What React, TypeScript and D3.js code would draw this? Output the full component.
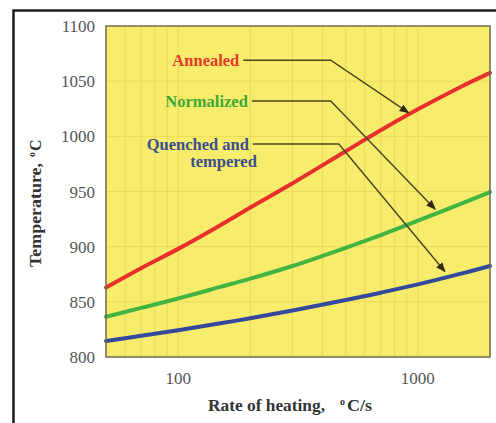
import * as d3 from 'd3'

// heating rate, °C/s
const rates = [50, 70, 100, 150, 200, 300, 500, 700, 1000, 1500, 2000]
// Ac3-type temperatures, °C
const annealed = [863, 880.5, 898, 919.5, 935.5, 957.5, 986.5, 1005.5, 1024.5, 1044.5, 1057.5]
const normalized = [836.5, 844.5, 853, 863.5, 871, 882.5, 899, 910.5, 923.5, 938.5, 949.5]
const quenched = [814.5, 819.2, 824.3, 830.5, 835.1, 842.1, 851.6, 858.3, 865.8, 875.3, 882.5]

const yTicks = [800, 850, 900, 950, 1000, 1050, 1100]
const xTicks = [100, 1000]

const series = [
  { name: 'Annealed', values: annealed, color: '#e8312c' },
  { name: 'Normalized', values: normalized, color: '#43b442' },
  { name: 'Quenched and tempered', values: quenched, color: '#34489c' },
]

// callouts: label lines, text colour, leader start / elbow / arrow tip in data units
const callouts = [
  { lines: ['Annealed'], color: '#e63a2c', start: [187, 1069], elbow: 433, tip: [914, 1021.5] },
  { lines: ['Normalized'], color: '#3fa83a', start: [203, 1032], elbow: 433, tip: [1181, 934] },
  { lines: ['Quenched and', 'tempered'], color: '#3b4f8f', start: [205, 993], elbow: 468, tip: [1297, 877.5] },
]

const W = 496
const H = 423
const plot = { left: 106, right: 490, top: 26, bottom: 357 }

export default function App() {
  const x = d3.scaleLog().domain([50, 2000]).range([plot.left, plot.right])
  const y = d3.scaleLinear().domain([800, 1100]).range([plot.bottom, plot.top])

  const line = d3.line<number>()
    .x((_, i) => x(rates[i]))
    .y(d => y(d))
    .curve(d3.curveCatmullRom.alpha(0.5))

  const minor: number[] = []
  for (let v = 60; v < 100; v += 10) minor.push(v)
  for (let v = 100; v < 1000; v += 100) minor.push(v)
  minor.push(1000)

  const serif = '"Liberation Serif", "Times New Roman", serif'

  return (
    <div style={{ position: 'absolute', left: 0, top: 0 }}>
      <svg width={W} height={H} style={{ display: 'block', background: '#fff' }}>
        <defs>
          <marker id="arr" viewBox="0 0 10 10" refX="9" refY="5" markerWidth="7" markerHeight="7" orient="auto">
            <path d="M0,1 L10,5 L0,9 z" fill="#2e2a14" />
          </marker>
        </defs>

        {/* outer frame */}
        <rect x={13.5} y={10.5} width={600} height={600} fill="none" stroke="#1a1a1a" strokeWidth={2.5} />

        {/* plot background */}
        <rect x={plot.left} y={plot.top} width={plot.right - plot.left} height={plot.bottom - plot.top} fill="#f8ec6c" />

        {/* grid */}
        {minor.map(v => (
          <line key={'gx' + v} x1={x(v)} x2={x(v)} y1={plot.top} y2={plot.bottom} stroke="#e9d95c" strokeWidth={1} />
        ))}
        {yTicks.slice(1, -1).map(v => (
          <line key={'gy' + v} x1={plot.left} x2={plot.right} y1={y(v)} y2={y(v)} stroke="#e9d95c" strokeWidth={1} />
        ))}

        {/* curves */}
        {series.map(s => (
          <path key={s.name} d={line(s.values) ?? ''} fill="none" stroke={s.color} strokeWidth={4} strokeLinecap="round" />
        ))}

        {/* callouts */}
        {callouts.map(c => {
          const sx = x(c.start[0])
          const sy = y(c.start[1])
          const ex = x(c.elbow)
          const tx = x(c.tip[0])
          const ty = y(c.tip[1])
          return (
            <g key={c.lines[0]}>
              <polyline points={`${sx},${sy} ${ex},${sy} ${tx},${ty}`} fill="none" stroke="#4a4420" strokeWidth={1.4} markerEnd="url(#arr)" />
              {c.lines.map((t, i) => (
                <text key={t} x={sx - 4 + i * 8} y={sy + 6 + i * 17} textAnchor="end" fill={c.color}
                  fontFamily={serif} fontWeight="bold" fontSize={16.5}>{t}</text>
              ))}
            </g>
          )
        })}

        {/* plot border */}
        <rect x={plot.left} y={plot.top} width={plot.right - plot.left} height={plot.bottom - plot.top} fill="none" stroke="#6f6b4c" strokeWidth={1.5} />

        {/* y ticks */}
        {yTicks.map(v => (
          <text key={'ty' + v} x={95} y={y(v) + 6} textAnchor="end" fill="#555" fontFamily={serif} fontSize={17}>{v}</text>
        ))}
        {/* x ticks */}
        {xTicks.map(v => (
          <text key={'tx' + v} x={x(v)} y={384} textAnchor="middle" fill="#555" fontFamily={serif} fontSize={17}>{v}</text>
        ))}

        {/* axis titles */}
        <g transform="translate(41,203) rotate(-90)" fill="#333" fontFamily={serif} fontWeight="bold">
          <text x={-64} y={0} fontSize={16} textLength={104} lengthAdjust="spacingAndGlyphs">Temperature,</text>
          <text x={46} y={-6} fontSize={10}>o</text>
          <text x={52} y={0} fontSize={16}>C</text>
        </g>
        <g fill="#333" fontFamily={serif} fontWeight="bold">
          <text x={208} y={411} fontSize={16} textLength={117} lengthAdjust="spacingAndGlyphs">Rate of heating,</text>
          <text x={340} y={405} fontSize={10}>o</text>
          <text x={347} y={411} fontSize={16} textLength={25} lengthAdjust="spacingAndGlyphs">C/s</text>
        </g>
      </svg>
    </div>
  )
}
